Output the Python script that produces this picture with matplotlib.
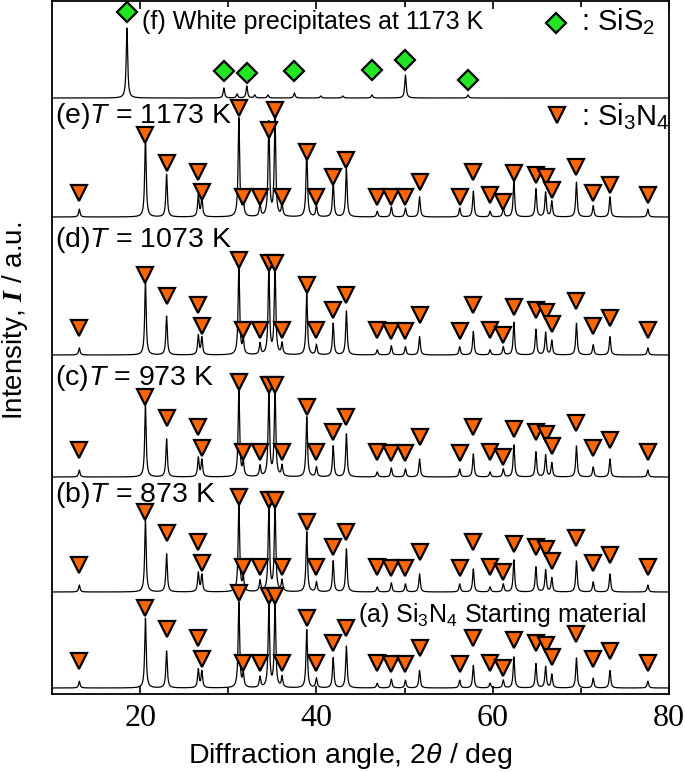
import numpy as np
import matplotlib
matplotlib.use("Agg")
import matplotlib.pyplot as plt

plt.rcParams["font.family"] = ["Liberation Sans", "DejaVu Sans"]
plt.rcParams["mathtext.fontset"] = "custom"
plt.rcParams["mathtext.rm"] = "Liberation Sans"
plt.rcParams["mathtext.it"] = "Liberation Sans:italic"
plt.rcParams["mathtext.bf"] = "Liberation Serif:italic:bold"

# Si3N4 reflections: position (deg), peak height, marker height (a-d), marker height (e)
si3n4_pos = [13.1, 20.6, 23.0, 26.6, 27.0, 31.2, 31.7, 33.6, 34.6, 35.3, 36.1,
             38.9, 40.0, 41.9, 43.4, 46.9, 48.5, 50.1, 51.7, 56.25, 57.8, 59.7,
             61.2, 62.4, 64.9, 66.0, 66.7, 69.5, 71.4, 73.3, 77.6]
si3n4_int = [7, 72, 38, 19, 17, 88, 14, 11, 84, 88, 11,
             60, 10, 31, 43, 5, 9, 8, 18, 8, 23, 5,
             8, 32, 25, 22, 14, 31, 10, 18, 7]
si3n4_mark = [27, 80, 59, 50, 29, 95, 25, 25, 92, 92, 25,
              70, 25, 45, 60, 25, 24, 24, 40, 24, 50, 25,
              20, 48, 45, 43, 31, 54, 29, 37, 25]
si3n4_mark_e = [24, 82, 54, 45, 25, 109, 20, 20, 87, 107, 20,
                65, 20, 40, 57, 20, 20, 20, 35, 20, 45, 22,
                15, 44, 42, 40, 27, 50, 24, 32, 22]

# SiS2 (white precipitates)
sis2_pos = [18.5, 29.5, 32.1, 37.5, 46.3, 50.1, 57.2]
sis2_int = [70, 10, 12, 5, 3, 23, 3]
sis2_mark = [86, 27, 25, 27, 28, 38, 18]
extra_pos_f = [31.0, 33.0, 34.5, 40.5, 43.0]
extra_int_f = [4, 3, 3, 2, 2]

panel_labels = ["(b)$T$ = 873 K", "(c)$T$ = 973 K",
                "(d)$T$ = 1073 K", "(e)$T$ = 1173 K"]
baselines = [6, 102, 217, 339, 477]
scales = [0.97, 1.0, 1.0, 1.02, 1.12]
baseline_f = 596

orange = "#FF6600"
green = "#22E622"

x = np.arange(10, 80.001, 0.01)


def pattern(pos, amp, hw=0.1):
    y = np.zeros_like(x)
    for p, a in zip(pos, amp):
        y += a / (1 + ((x - p) / hw) ** 2)
    return y


fig = plt.figure(figsize=(6.85, 7.72), dpi=100)
ax = fig.add_axes([52 / 685, 78 / 772, 617 / 685, 693 / 772])

for i, base in enumerate(baselines):
    amps = [a * scales[i] for a in si3n4_int]
    ax.plot(x, base + pattern(si3n4_pos, amps), color="black", lw=0.9)
    marks = si3n4_mark_e if i == 4 else si3n4_mark
    ax.plot(si3n4_pos, [base + m for m in marks], "v", ms=12,
            mfc=orange, mec="black", mew=1.6, ls="none", zorder=3)

# (f) white precipitates
f_pos = sis2_pos + extra_pos_f
f_int = sis2_int + extra_int_f
ax.plot(x, baseline_f + pattern(f_pos, f_int), color="black", lw=0.9)
ax.plot(sis2_pos, [baseline_f + m for m in sis2_mark], "D", ms=10,
        mfc=green, mec="black", mew=1.6, ls="none", zorder=3)

# labels
label_y = [199, 316, 454, 578]
for ly, txt in zip(label_y, panel_labels):
    ax.text(10.35, ly, txt, fontsize=20.5, ha="left", va="center")
ax.text(44.7, 79, "(a) Si$_3$N$_4$ Starting material", fontsize=18,
        ha="left", va="center")
ax.text(20.2, 672, "(f) White precipitates at 1173 K", fontsize=18,
        ha="left", va="center")

# legend markers
ax.plot([67.2], [671], "D", ms=10, mfc=green, mec="black", mew=1.6)
ax.text(70.0, 672, ": SiS$_2$", fontsize=21, ha="left", va="center")
ax.plot([67.3], [579], "v", ms=12, mfc=orange, mec="black", mew=1.6)
ax.text(70.0, 577, ": Si$_3$N$_4$", fontsize=21, ha="left", va="center")

ax.set_xlim(10, 80)
ax.set_ylim(0, 693)
ax.set_xticks([20, 40, 60, 80])
ax.set_xticks([30, 50, 70], minor=True)
ax.set_yticks([])
ax.tick_params(axis="x", which="both", direction="in", top=True)
ax.tick_params(axis="x", which="major", length=6, width=1.2, pad=7)
ax.tick_params(axis="x", which="minor", length=4, width=1.2)
for lab in ax.get_xticklabels():
    lab.set_fontfamily("Liberation Serif")
    lab.set_fontsize(23)
for s in ax.spines.values():
    s.set_linewidth(1.3)

ax.set_xlabel(r"Diffraction angle, 2$\theta$ / deg", fontsize=20.5)
ax.xaxis.set_label_coords(0.483, -0.068)
fig.text(0.022, 0.585, r"Intensity, $\mathbf{I}$ / a.u.", fontsize=20,
         rotation=90, ha="center", va="center")

fig.savefig("out.png", dpi=100)
